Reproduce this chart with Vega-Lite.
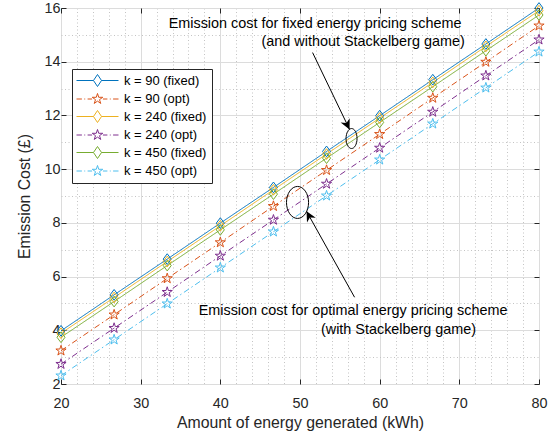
{
  "$schema": "https://vega.github.io/schema/vega-lite/v6.json",
  "width": 478,
  "height": 376,
  "autosize": {"type": "none"},
  "padding": {"left": 61, "top": 8, "right": 19, "bottom": 51},
  "background": "white",
  "config": {
    "font": "Liberation Sans",
    "view": {"stroke": "#262626", "strokeWidth": 1}
  },
  "datasets": {
    "main": [
      {"x": 20, "y": 3.98, "series": "k = 90 (fixed)", "type": "fixed"},
      {"x": 26.667, "y": 5.32, "series": "k = 90 (fixed)", "type": "fixed"},
      {"x": 33.333, "y": 6.65, "series": "k = 90 (fixed)", "type": "fixed"},
      {"x": 40, "y": 7.99, "series": "k = 90 (fixed)", "type": "fixed"},
      {"x": 46.667, "y": 9.32, "series": "k = 90 (fixed)", "type": "fixed"},
      {"x": 53.333, "y": 10.66, "series": "k = 90 (fixed)", "type": "fixed"},
      {"x": 60, "y": 11.99, "series": "k = 90 (fixed)", "type": "fixed"},
      {"x": 66.667, "y": 13.33, "series": "k = 90 (fixed)", "type": "fixed"},
      {"x": 73.333, "y": 14.66, "series": "k = 90 (fixed)", "type": "fixed"},
      {"x": 80, "y": 16.0, "series": "k = 90 (fixed)", "type": "fixed"},
      {"x": 20, "y": 3.24, "series": "k = 90 (opt)", "type": "opt"},
      {"x": 26.667, "y": 4.58, "series": "k = 90 (opt)", "type": "opt"},
      {"x": 33.333, "y": 5.93, "series": "k = 90 (opt)", "type": "opt"},
      {"x": 40, "y": 7.27, "series": "k = 90 (opt)", "type": "opt"},
      {"x": 46.667, "y": 8.62, "series": "k = 90 (opt)", "type": "opt"},
      {"x": 53.333, "y": 9.96, "series": "k = 90 (opt)", "type": "opt"},
      {"x": 60, "y": 11.30, "series": "k = 90 (opt)", "type": "opt"},
      {"x": 66.667, "y": 12.65, "series": "k = 90 (opt)", "type": "opt"},
      {"x": 73.333, "y": 13.99, "series": "k = 90 (opt)", "type": "opt"},
      {"x": 80, "y": 15.34, "series": "k = 90 (opt)", "type": "opt"},
      {"x": 20, "y": 3.89, "series": "k = 240 (fixed)", "type": "fixed"},
      {"x": 26.667, "y": 5.22, "series": "k = 240 (fixed)", "type": "fixed"},
      {"x": 33.333, "y": 6.56, "series": "k = 240 (fixed)", "type": "fixed"},
      {"x": 40, "y": 7.89, "series": "k = 240 (fixed)", "type": "fixed"},
      {"x": 46.667, "y": 9.23, "series": "k = 240 (fixed)", "type": "fixed"},
      {"x": 53.333, "y": 10.56, "series": "k = 240 (fixed)", "type": "fixed"},
      {"x": 60, "y": 11.90, "series": "k = 240 (fixed)", "type": "fixed"},
      {"x": 66.667, "y": 13.23, "series": "k = 240 (fixed)", "type": "fixed"},
      {"x": 73.333, "y": 14.57, "series": "k = 240 (fixed)", "type": "fixed"},
      {"x": 80, "y": 15.90, "series": "k = 240 (fixed)", "type": "fixed"},
      {"x": 20, "y": 2.74, "series": "k = 240 (opt)", "type": "opt"},
      {"x": 26.667, "y": 4.08, "series": "k = 240 (opt)", "type": "opt"},
      {"x": 33.333, "y": 5.42, "series": "k = 240 (opt)", "type": "opt"},
      {"x": 40, "y": 6.77, "series": "k = 240 (opt)", "type": "opt"},
      {"x": 46.667, "y": 8.11, "series": "k = 240 (opt)", "type": "opt"},
      {"x": 53.333, "y": 9.45, "series": "k = 240 (opt)", "type": "opt"},
      {"x": 60, "y": 10.79, "series": "k = 240 (opt)", "type": "opt"},
      {"x": 66.667, "y": 12.13, "series": "k = 240 (opt)", "type": "opt"},
      {"x": 73.333, "y": 13.48, "series": "k = 240 (opt)", "type": "opt"},
      {"x": 80, "y": 14.82, "series": "k = 240 (opt)", "type": "opt"},
      {"x": 20, "y": 3.74, "series": "k = 450 (fixed)", "type": "fixed"},
      {"x": 26.667, "y": 5.07, "series": "k = 450 (fixed)", "type": "fixed"},
      {"x": 33.333, "y": 6.41, "series": "k = 450 (fixed)", "type": "fixed"},
      {"x": 40, "y": 7.74, "series": "k = 450 (fixed)", "type": "fixed"},
      {"x": 46.667, "y": 9.07, "series": "k = 450 (fixed)", "type": "fixed"},
      {"x": 53.333, "y": 10.41, "series": "k = 450 (fixed)", "type": "fixed"},
      {"x": 60, "y": 11.74, "series": "k = 450 (fixed)", "type": "fixed"},
      {"x": 66.667, "y": 13.07, "series": "k = 450 (fixed)", "type": "fixed"},
      {"x": 73.333, "y": 14.41, "series": "k = 450 (fixed)", "type": "fixed"},
      {"x": 80, "y": 15.74, "series": "k = 450 (fixed)", "type": "fixed"},
      {"x": 20, "y": 2.31, "series": "k = 450 (opt)", "type": "opt"},
      {"x": 26.667, "y": 3.65, "series": "k = 450 (opt)", "type": "opt"},
      {"x": 33.333, "y": 4.99, "series": "k = 450 (opt)", "type": "opt"},
      {"x": 40, "y": 6.33, "series": "k = 450 (opt)", "type": "opt"},
      {"x": 46.667, "y": 7.67, "series": "k = 450 (opt)", "type": "opt"},
      {"x": 53.333, "y": 9.01, "series": "k = 450 (opt)", "type": "opt"},
      {"x": 60, "y": 10.35, "series": "k = 450 (opt)", "type": "opt"},
      {"x": 66.667, "y": 11.69, "series": "k = 450 (opt)", "type": "opt"},
      {"x": 73.333, "y": 13.03, "series": "k = 450 (opt)", "type": "opt"},
      {"x": 80, "y": 14.37, "series": "k = 450 (opt)", "type": "opt"}
    ]
  },
  "resolve": {"axis": {"x": "independent", "y": "independent"}},
  "layer": [
    {
      "data": {"name": "main"},
      "mark": {"type": "line", "strokeWidth": 1},
      "encoding": {
        "x": {
          "field": "x", "type": "quantitative",
          "scale": {"domain": [20, 80], "nice": false, "zero": false},
          "axis": {
            "orient": "bottom",
            "title": "Amount of energy generated (kWh)",
            "values": [20,22,24,26,28,30,32,34,36,38,40,42,44,46,48,50,52,54,56,58,60,62,64,66,68,70,72,74,76,78,80],
            "format": "d",
            "labelExpr": "datum.value % 10 === 0 ? datum.label : ''",
            "labelFlush": false,
            "labelOverlap": false,
            "labelFontSize": 14.4,
            "labelColor": "#262626",
            "labelPadding": 17,
            "titleFontSize": 15.84,
            "titleFontWeight": "normal",
            "titleColor": "#262626",
            "titlePadding": 5,
            "domain": false,
            "grid": true,
            "gridColor": {"condition": {"test": "datum.value % 10 === 0", "value": "#dcdcdc"}, "value": "#c4c4c4"},
            "gridDash": {"condition": {"test": "datum.value % 10 === 0", "value": []}, "value": [1, 2.5]},
            "tickSize": -5,
            "tickColor": "#262626",
            "tickOpacity": {"condition": {"test": "datum.value % 10 === 0", "value": 1}, "value": 0}
          }
        },
        "y": {
          "field": "y", "type": "quantitative",
          "scale": {"domain": [2, 16], "nice": false, "zero": false},
          "axis": {
            "orient": "left",
            "title": "Emission Cost (£)",
            "values": [2,2.5,3,3.5,4,4.5,5,5.5,6,6.5,7,7.5,8,8.5,9,9.5,10,10.5,11,11.5,12,12.5,13,13.5,14,14.5,15,15.5,16],
            "format": "d",
            "labelExpr": "datum.value % 2 === 0 ? datum.label : ''",
            "labelFlush": false,
            "labelOverlap": false,
            "labelFontSize": 14.4,
            "labelColor": "#262626",
            "labelPadding": 6,
            "titleFontSize": 15.84,
            "titleFontWeight": "normal",
            "titleColor": "#262626",
            "titlePadding": 11,
            "domain": false,
            "grid": true,
            "gridColor": {"condition": {"test": "datum.value % 2 === 0", "value": "#dcdcdc"}, "value": "#c4c4c4"},
            "gridDash": {"condition": {"test": "datum.value % 2 === 0", "value": []}, "value": [1, 2.5]},
            "tickSize": -5,
            "tickColor": "#262626",
            "tickOpacity": {"condition": {"test": "datum.value % 2 === 0", "value": 1}, "value": 0}
          }
        },
        "color": {
          "field": "series", "type": "nominal",
          "scale": {
            "domain": ["k = 90 (fixed)", "k = 90 (opt)", "k = 240 (fixed)", "k = 240 (opt)", "k = 450 (fixed)", "k = 450 (opt)"],
            "range": ["#0072BD", "#D95319", "#EDB120", "#7E2F8E", "#77AC30", "#4DBEEE"]
          },
          "legend": {
            "orient": "none",
            "legendX": 11,
            "legendY": 61,
            "title": null,
            "fillColor": "white",
            "strokeColor": "#262626",
            "padding": 5,
            "labelFontSize": 12.96,
            "labelColor": "black",
            "symbolSize": 144,
            "symbolOffset": 14,
            "labelOffset": 20,
            "rowPadding": 1.5,
            "symbolStrokeWidth": 1,
            "encode": {
              "symbols": {
                "update": {
                  "shape": {"signal": "indexof(datum.value, 'fixed') >= 0 ? 'M-3.5,0L-0.67,0M0.67,0L3.5,0M0,-1L0.67,0L0,1L-0.67,0Z' : 'M-3.5,0L-2.6,0M-2.2,0L-2.05,0M-1.65,0L-0.9,0M0.9,0L1.65,0M2.05,0L2.2,0M2.6,0L3.5,0M0,-0.92L0.205,-0.282L0.875,-0.284L0.332,0.108L0.541,0.744L0,0.35L-0.541,0.744L-0.332,0.108L-0.875,-0.284L-0.205,-0.282Z'"},
                  "fill": {"value": "transparent"},
                  "strokeDash": {"value": []}
                }
              }
            }
          }
        },
        "strokeDash": {
          "field": "type", "type": "nominal",
          "scale": {"domain": ["fixed", "opt"], "range": [[1, 0], [6, 3, 1.5, 3]]},
          "legend": null
        },
        "detail": {"field": "series"}
      }
    },
    {
      "data": {"name": "main"},
      "mark": {"type": "point", "filled": false, "strokeWidth": 1, "size": 115, "opacity": 1},
      "encoding": {
        "x": {
          "field": "x", "type": "quantitative",
          "axis": {
            "orient": "top", "title": null, "labels": false, "grid": false, "domain": false,
            "values": [20, 30, 40, 50, 60, 70, 80],
            "tickSize": -5, "tickColor": "#262626"
          }
        },
        "y": {
          "field": "y", "type": "quantitative",
          "axis": {
            "orient": "right", "title": null, "labels": false, "grid": false, "domain": false,
            "values": [2, 4, 6, 8, 10, 12, 14, 16],
            "tickSize": -5, "tickColor": "#262626"
          }
        },
        "color": {"field": "series", "type": "nominal"},
        "shape": {
          "field": "type", "type": "nominal",
          "scale": {
            "domain": ["fixed", "opt"],
            "range": [
              "M0,-1L0.75,0L0,1L-0.75,0Z",
              "M0,-1L0.223,-0.307L0.951,-0.309L0.361,0.117L0.588,0.809L0,0.38L-0.588,0.809L-0.361,0.117L-0.951,-0.309L-0.223,-0.307Z"
            ]
          },
          "legend": null
        }
      }
    },
    {
      "data": {"values": [
        {"x": 51.89, "y": 15.39, "label": "Emission cost for fixed energy pricing scheme"},
        {"x": 57.92, "y": 14.72, "label": "(and without Stackelberg game)"},
        {"x": 56.66, "y": 4.72, "label": "Emission cost for optimal energy pricing scheme"},
        {"x": 62.37, "y": 4.02, "label": "(with Stackelberg game)"}
      ]},
      "mark": {"type": "text", "fontSize": 14.4, "color": "black", "align": "center", "baseline": "middle"},
      "encoding": {
        "x": {"field": "x", "type": "quantitative", "axis": null},
        "y": {"field": "y", "type": "quantitative", "axis": null},
        "text": {"field": "label"}
      }
    },
    {
      "data": {"values": [{"x": 56.47, "y": 11.14}]},
      "mark": {"type": "point", "filled": false, "stroke": "black", "strokeWidth": 1, "opacity": 1, "size": 400,
        "shape": "M-0.55,0A0.55,1 0 1,0 0.55,0A0.55,1 0 1,0 -0.55,0Z"},
      "encoding": {
        "x": {"field": "x", "type": "quantitative", "axis": null},
        "y": {"field": "y", "type": "quantitative", "axis": null}
      }
    },
    {
      "data": {"values": [{"x": 49.69, "y": 8.76}]},
      "mark": {"type": "point", "filled": false, "stroke": "black", "strokeWidth": 1, "opacity": 1, "size": 1024,
        "shape": "M-0.69,0A0.69,1 0 1,0 0.69,0A0.69,1 0 1,0 -0.69,0Z"},
      "encoding": {
        "x": {"field": "x", "type": "quantitative", "axis": null},
        "y": {"field": "y", "type": "quantitative", "axis": null}
      }
    },
    {
      "data": {"values": [
        {"x": 51.58, "y": 14.34, "x2": 56.22, "y2": 11.48},
        {"x": 56.85, "y": 5.23, "x2": 50.82, "y2": 8.43}
      ]},
      "mark": {"type": "rule", "color": "black", "strokeWidth": 1},
      "encoding": {
        "x": {"field": "x", "type": "quantitative", "axis": null},
        "y": {"field": "y", "type": "quantitative", "axis": null},
        "x2": {"field": "x2"},
        "y2": {"field": "y2"}
      }
    },
    {
      "data": {"values": [{"x": 56.22, "y": 11.48}]},
      "mark": {"type": "point", "filled": true, "color": "black", "opacity": 1, "size": 100, "angle": 154,
        "shape": "M0,0L-1,2L0,1.4L1,2Z"},
      "encoding": {
        "x": {"field": "x", "type": "quantitative", "axis": null},
        "y": {"field": "y", "type": "quantitative", "axis": null}
      }
    },
    {
      "data": {"values": [{"x": 50.82, "y": 8.43}]},
      "mark": {"type": "point", "filled": true, "color": "black", "opacity": 1, "size": 100, "angle": 331,
        "shape": "M0,0L-1,2L0,1.4L1,2Z"},
      "encoding": {
        "x": {"field": "x", "type": "quantitative", "axis": null},
        "y": {"field": "y", "type": "quantitative", "axis": null}
      }
    }
  ]
}
